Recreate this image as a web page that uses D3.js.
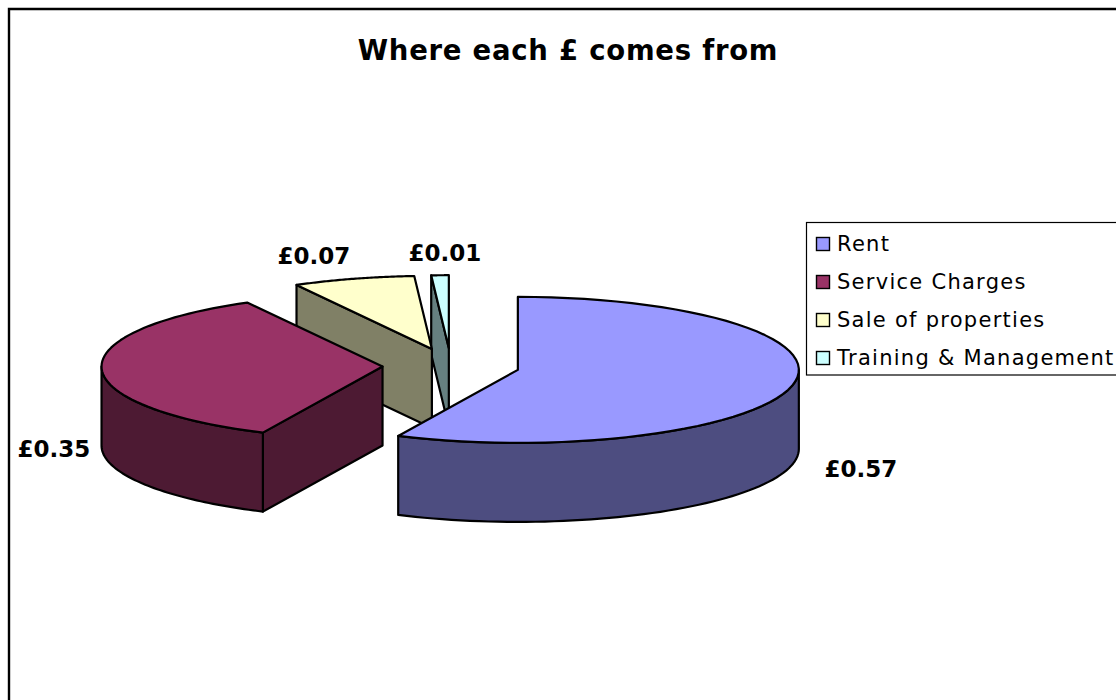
<!DOCTYPE html>
<html>
<head>
<meta charset="utf-8">
<title>Where each £ comes from</title>
<script src="https://cdn.jsdelivr.net/npm/d3@7/dist/d3.min.js"></script>
<style>
  html, body { margin: 0; padding: 0; background: #fff; overflow: hidden; }
  text { font-family: "DejaVu Sans", Verdana, sans-serif; fill: #000; }
</style>
</head>
<body>
<svg id="chart" width="1116" height="700"></svg>
<script>
// Income sources, in pounds per pound received
const categories = ["Rent", "Service Charges", "Sale of properties", "Training & Management"];
const values = [0.57, 0.35, 0.07, 0.01];
const topColours = ["#9999FF", "#993366", "#FFFFCC", "#CCFFFF"];
const titleText = "Where each £ comes from";

// Pie geometry: an exploded disc tilted towards the viewer
const centre = { x: 451, y: 366 };
const radiusX = 281, radiusY = 73, depth = 79, explode = 68.5;
const labelAnchors = [[861, 477], [54, 457], [314, 264], [445, 261]];

const svg = d3.select("#chart");
const colour = d3.scaleOrdinal().domain(categories).range(topColours);
const wallColour = c => { const h = d3.color(c); return d3.rgb(h.r / 2, h.g / 2, h.b / 2).formatHex(); };
const money = v => "£" + d3.format(".2f")(v);

// Outer frame: only the top and left edges fall inside the page
svg.append("path")
  .attr("d", "M9,701V9H1117")
  .attr("fill", "none").attr("stroke", "#000").attr("stroke-width", 2.4);

svg.append("text")
  .attr("x", 568).attr("y", 60)
  .attr("text-anchor", "middle")
  .attr("font-size", 27.5).attr("font-weight", "bold")
  .attr("letter-spacing", 0.75)
  .text(titleText);

const slices = d3.pie().sort(null).value(d => d.value)(
  categories.map((name, i) => ({ name, value: values[i] }))
);

// Ellipse position for a clockwise angle measured from twelve o'clock
const rim = (c, a, drop = 0) => [
  c.x + radiusX * Math.sin(a),
  c.y - radiusY * Math.cos(a) + drop
];
const line = d3.line();
const arcPoints = (c, a0, a1, drop = 0) =>
  d3.range(0, 61).map(k => rim(c, a0 + (a1 - a0) * k / 60, drop));

const pieLayer = svg.append("g")
  .attr("stroke", "#000").attr("stroke-width", 2.2).attr("stroke-linejoin", "round");

// Paint from the back of the disc forwards so nearer slices overlap farther ones
slices.slice().reverse().forEach(s => {
  const mid = (s.startAngle + s.endAngle) / 2;
  const c = {
    x: centre.x + explode * Math.sin(mid),
    y: centre.y - explode * (radiusY / radiusX) * Math.cos(mid)
  };
  const top = colour(s.data.name);
  const side = wallColour(top);
  const g = pieLayer.append("g");

  // Radial cut faces that turn towards the viewer
  [[s.startAngle, s.startAngle - Math.PI / 2], [s.endAngle, s.endAngle + Math.PI / 2]]
    .forEach(([a, normal]) => {
      if (-Math.cos(normal) > 1e-6) {
        const r = rim(c, a);
        g.append("path")
          .attr("fill", side)
          .attr("d", line([[c.x, c.y], r, [r[0], r[1] + depth], [c.x, c.y + depth]]) + "Z");
      }
    });

  // Curved outer wall on the front half of the ellipse
  const a0 = Math.max(s.startAngle, Math.PI / 2);
  const a1 = Math.min(s.endAngle, 3 * Math.PI / 2);
  if (a1 > a0) {
    const pts = arcPoints(c, a0, a1).concat(arcPoints(c, a1, a0, depth));
    g.append("path").attr("fill", side).attr("d", line(pts) + "Z");
  }

  // Top face
  const face = [[c.x, c.y]].concat(arcPoints(c, s.startAngle, s.endAngle));
  g.append("path").attr("fill", top).attr("d", line(face) + "Z");
});

// Value labels
svg.append("g").selectAll("text")
  .data(slices)
  .join("text")
  .attr("x", (d, i) => labelAnchors[i][0])
  .attr("y", (d, i) => labelAnchors[i][1])
  .attr("text-anchor", "middle")
  .attr("font-size", 23).attr("font-weight", "bold")
  .text(d => money(d.data.value));

// Legend, running off the right edge of the page
const legend = svg.append("g");
legend.append("rect")
  .attr("x", 806.5).attr("y", 222.5).attr("width", 330).attr("height", 152.5)
  .attr("fill", "#fff").attr("stroke", "#000").attr("stroke-width", 1.2);

const legendY = d3.scalePoint().domain(categories).range([244, 358]);
const rows = legend.selectAll("g.row").data(categories).join("g")
  .attr("class", "row")
  .attr("transform", d => `translate(816,${legendY(d)})`);
rows.append("rect")
  .attr("x", 0.5).attr("y", -6.5).attr("width", 13).attr("height", 13)
  .attr("fill", d => colour(d)).attr("stroke", "#000").attr("stroke-width", 1.4);
rows.append("text")
  .attr("x", 21).attr("y", 7)
  .attr("font-size", 21).attr("letter-spacing", 1.27)
  .text(d => d);
</script>
</body>
</html>
